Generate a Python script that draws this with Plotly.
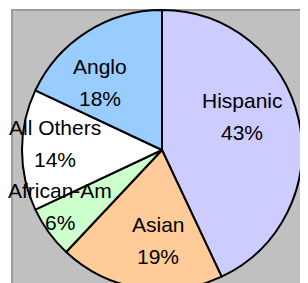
import math
import plotly.graph_objects as go

# ---- data ----
categories = ["Hispanic", "Asian", "African-Am", "All Others", "Anglo"]
values = [43, 19, 6, 14, 18]

# ---- style ----
colors = ["#ccccff", "#ffcc99", "#ccffcc", "#ffffff", "#99ccff"]
label_radius = [0.621, 0.649, 0.833, 0.769, 0.657]   # fraction of pie radius
label_nudge_deg = [-10.4, -6.7, 7.0, 3.6, -10.0]     # angular nudge from slice middle

OFF = 8                     # page body margin in front of the figure
W, H = 320, 300             # figure size (bottom/right part falls outside the window)
CX, CY, R = 162.0 - OFF, 150.0 - OFF, 140.0   # pie centre/radius in figure pixels
FONT = "Liberation Sans, Arial, sans-serif"
FS = 21

fig = go.Figure()
fig.add_trace(go.Pie(
    labels=categories,
    values=values,
    sort=False,
    direction="clockwise",
    rotation=0,
    textinfo="none",
    hoverinfo="label+percent",
    marker=dict(colors=colors, line=dict(color="#000000", width=2)),
    domain=dict(x=[(CX - R) / W, (CX + R) / W],
                y=[1 - (CY + R) / H, 1 - (CY - R) / H]),
    showlegend=False,
))

total = sum(values)
cum = 0.0
annotations = []
for name, v, f, nd in zip(categories, values, label_radius, label_nudge_deg):
    mid = (cum + v / 2) / total * 360.0 + nd
    cum += v
    a = math.radians(mid)
    px = CX + f * R * math.sin(a)
    py = CY - f * R * math.cos(a)
    xp = px / W
    yp = 1 - py / H
    for txt, ys in ((name, 16), (f"{v}%", -16)):
        annotations.append(dict(
            x=xp, y=yp, xref="paper", yref="paper", text=txt, showarrow=False,
            xanchor="center", yanchor="middle", yshift=ys,
            font=dict(family=FONT, size=FS, color="#000000"),
        ))

fig.update_layout(
    width=W, height=H,
    margin=dict(l=0, r=0, t=0, b=0),
    paper_bgcolor="#ffffff",
    plot_bgcolor="#ffffff",
    shapes=[dict(
        type="rect", xref="paper", yref="paper", layer="below",
        x0=(12 - OFF) / W, x1=1.05, y0=-0.05, y1=1 - (10 - OFF) / H,
        fillcolor="#c0c0c0", line=dict(color="#9a9a9a", width=2),
    )],
    annotations=annotations,
)

fig.write_html("out.html")
